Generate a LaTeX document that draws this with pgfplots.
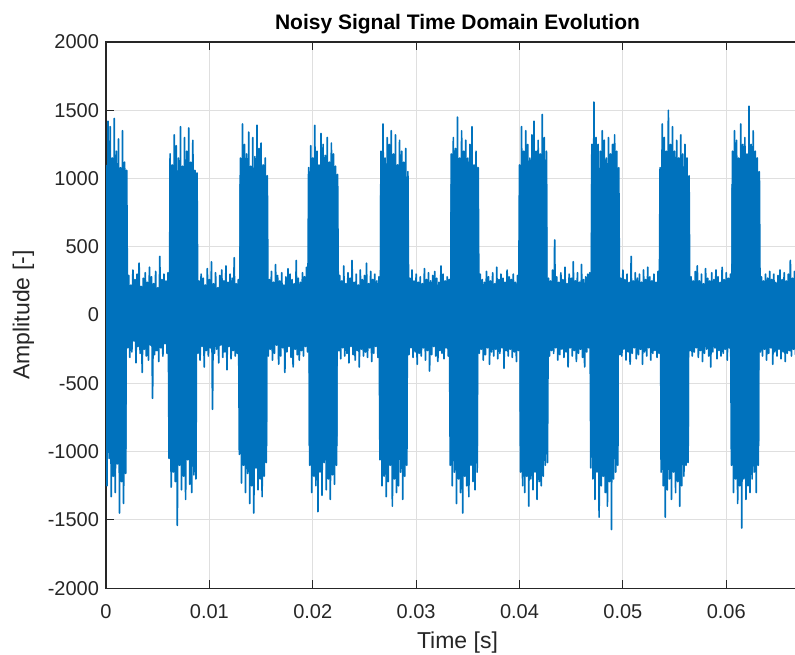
\documentclass[border=0pt]{standalone}
\usepackage{pgfplots}
\pgfplotsset{compat=1.18}
\usepackage{fontspec}
\setmainfont{Liberation Sans}
\definecolor{mblue}{RGB}{0,114,189}
\definecolor{axgray}{RGB}{38,38,38}
\definecolor{gridc}{RGB}{223,223,223}
\begin{document}
\begin{tikzpicture}
\begin{axis}[
  scale only axis, width=351.4pt, height=273pt,
  xmin=0, xmax=68, ymin=-2000, ymax=2000,
  xtick={0,10,20,30,40,50,60},
  xticklabels={0,0.01,0.02,0.03,0.04,0.05,0.06},
  ytick={-2000,-1500,-1000,-500,0,500,1000,1500,2000},
  grid=major, grid style={gridc, line width=0.5pt},
  axis line style={axgray, line width=0.6pt},
  tick style={axgray, line width=0.6pt}, tick align=inside, major tick length=4pt,
  ticklabel style={font=\fontsize{10}{12}\selectfont, text=axgray},
  xticklabel style={yshift=-4.5pt},
  /pgf/number format/assume math mode=true,
  /pgf/number format/1000 sep={},
  title={\bfseries Noisy Signal Time Domain Evolution},
  title style={font=\fontsize{10.5}{12}\selectfont, text=black, yshift=-5.5pt},
  xlabel={Time [s]}, ylabel={Amplitude [-]},
  label style={font=\fontsize{11.5}{13}\selectfont, text=axgray},
]
% solid core of the signal band
\addplot[fill=mblue, draw=none] coordinates {
(0,980) (2.0,980) (2.0,180) (6.1,180) (6.1,960) (8.8,960) (8.8,180)
(12.9,180) (12.9,960) (15.6,960) (15.6,180) (19.6,180) (19.6,960) (22.4,960) (22.4,180)
(26.5,180) (26.5,960) (29.2,960) (29.2,180) (33.3,180) (33.3,960) (36.0,960) (36.0,180)
(40.0,180) (40.0,960) (42.7,960) (42.7,180) (46.9,180) (46.9,960) (49.6,960) (49.6,180)
(53.6,180) (53.6,960) (56.4,960) (56.4,180) (60.5,180) (60.5,960) (63.2,960) (63.2,180)
(66.9,180)
(66.9,-180) (63.2,-180) (63.2,-960) (60.5,-960) (60.5,-180) (56.4,-180) (56.4,-960) (53.6,-960) (53.6,-180)
(49.6,-180) (49.6,-960) (46.9,-960) (46.9,-180) (42.7,-180) (42.7,-960) (40.0,-960) (40.0,-180)
(36.0,-180) (36.0,-960) (33.3,-960) (33.3,-180) (29.2,-180) (29.2,-960) (26.5,-960) (26.5,-180)
(22.4,-180) (22.4,-960) (19.6,-960) (19.6,-180) (15.6,-180) (15.6,-960) (12.9,-960) (12.9,-180)
(8.8,-180) (8.8,-960) (6.1,-960) (6.1,-180) (2.0,-180) (2.0,-980) (0,-980)
};
% sampled noisy signal
\addplot[mblue, line width=0.85pt, line join=round] table[header=false] {
0.0 1100
0.1 -1250
0.2 1420
0.3 -1050
0.4 1380
0.5 -1330
0.6 1150
0.7 -1180
0.8 1440
0.9 -1300
1.0 1200
1.1 -1090
1.2 1290
1.3 -1450
1.4 1080
1.5 -1220
1.6 1350
1.7 -1380
1.8 1120
1.9 -1160
2.0 1060
2.1 -240
2.2 290
2.3 -310
2.4 220
2.5 -270
2.6 330
2.7 -190
2.8 260
2.9 -350
3.0 300
3.1 -230
3.2 380
3.3 -280
3.4 210
3.5 -420
3.6 270
3.7 -250
3.8 310
3.9 -300
4.0 240
4.1 -330
4.2 350
4.3 -220
4.4 280
4.5 -610
4.6 230
4.7 -290
4.8 320
4.9 -260
5.0 200
5.1 -340
5.2 430
5.3 -240
5.4 260
5.5 -300
5.6 300
5.7 -210
5.8 250
5.9 -280
6.0 310
6.1 -1050
6.2 1180
6.3 -1260
6.4 1100
6.5 -1150
6.6 1320
6.7 -1220
6.8 1240
6.9 -1540
7.0 1150
7.1 -1100
7.2 1380
7.3 -1280
7.4 1090
7.5 -1180
7.6 1300
7.7 -1350
7.8 1200
7.9 -1060
8.0 1370
8.1 -1240
8.2 1120
8.3 -1300
8.4 1280
8.5 -1170
8.6 1060
8.7 -1200
8.8 1040
8.9 -280
9.0 250
9.1 -330
9.2 300
9.3 -230
9.4 270
9.5 -380
9.6 220
9.7 -260
9.8 340
9.9 -300
10.0 260
10.1 -240
10.2 390
10.3 -690
10.4 230
10.5 -280
10.6 310
10.7 -250
10.8 200
10.9 -350
11.0 290
11.1 -220
11.2 330
11.3 -310
11.4 250
11.5 -270
11.6 360
11.7 -400
11.8 240
11.9 -230
12.0 300
12.1 -320
12.2 270
12.3 -260
12.4 420
12.5 -300
12.6 230
12.7 -280
12.8 260
12.9 -1020
13.0 1150
13.1 -1230
13.2 1400
13.3 -1100
13.4 1250
13.5 -1300
13.6 1180
13.7 -1160
13.8 1340
13.9 -1380
14.0 1090
14.1 -1250
14.2 1300
14.3 -1450
14.4 1160
14.5 -1120
14.6 1390
14.7 -1280
14.8 1220
14.9 -1200
15.0 1260
15.1 -1330
15.2 1100
15.3 -1180
15.4 1150
15.5 -1080
15.6 1020
15.7 -300
15.8 260
15.9 -250
16.0 320
16.1 -330
16.2 240
16.3 -280
16.4 370
16.5 -220
16.6 290
16.7 -360
16.8 250
16.9 -300
17.0 310
17.1 -240
17.2 220
17.3 -420
17.4 280
17.5 -270
17.6 340
17.7 -230
17.8 300
17.9 -310
18.0 260
18.1 -380
18.2 230
18.3 -250
18.4 400
18.5 -290
18.6 270
18.7 -330
18.8 240
18.9 -260
19.0 310
19.1 -300
19.2 280
19.3 -230
19.4 350
19.5 -270
19.6 1080
19.7 -1100
19.8 1240
19.9 -1300
20.0 1150
20.1 -1180
20.2 1390
20.3 -1250
20.4 1200
20.5 -1440
20.6 1100
20.7 -1150
20.8 1330
20.9 -1320
21.0 1250
21.1 -1080
21.2 1170
21.3 -1280
21.4 1300
21.5 -1200
21.6 1120
21.7 -1350
21.8 1260
21.9 -1170
22.0 1180
22.1 -1240
22.2 1090
22.3 -1100
22.4 1030
22.5 -260
22.6 290
22.7 -320
22.8 250
22.9 -240
23.0 360
23.1 -300
23.2 230
23.3 -280
23.4 310
23.5 -350
23.6 270
23.7 -230
23.8 400
23.9 -290
24.0 240
24.1 -330
24.2 300
24.3 -260
24.4 220
24.5 -380
24.6 330
24.7 -250
24.8 260
24.9 -300
25.0 290
25.1 -270
25.2 380
25.3 -310
25.4 230
25.5 -240
25.6 320
25.7 -340
25.8 260
25.9 -280
26.0 300
26.1 -230
26.2 250
26.3 -310
26.4 280
26.5 -1060
26.6 1200
26.7 -1250
26.8 1400
26.9 -1180
27.0 1150
27.1 -1330
27.2 1300
27.3 -1220
27.4 1250
27.5 -1100
27.6 1350
27.7 -1400
27.8 1180
27.9 -1200
28.0 1320
28.1 -1300
28.2 1100
28.3 -1250
28.4 1280
28.5 -1150
28.6 1200
28.7 -1350
28.8 1120
28.9 -1180
29.0 1220
29.1 -1100
29.2 1050
29.3 -290
29.4 270
29.5 -240
29.6 330
29.7 -310
29.8 250
29.9 -270
30.0 300
30.1 -360
30.2 240
30.3 -280
30.4 280
30.5 -300
30.6 230
30.7 -240
30.8 340
30.9 -330
31.0 260
31.1 -260
31.2 310
31.3 -410
31.4 250
31.5 -290
31.6 290
31.7 -230
31.8 320
31.9 -300
32.0 270
32.1 -340
32.2 240
32.3 -260
32.4 360
32.5 -280
32.6 300
32.7 -320
32.8 250
32.9 -240
33.0 280
33.1 -300
33.2 260
33.3 -1100
33.4 1180
33.5 -1250
33.6 1300
33.7 -1150
33.8 1220
33.9 -1380
34.0 1450
34.1 -1200
34.2 1150
34.3 -1300
34.4 1350
34.5 -1450
34.6 1200
34.7 -1180
34.8 1280
34.9 -1250
35.0 1150
35.1 -1330
35.2 1250
35.3 -1100
35.4 1380
35.5 -1220
35.6 1100
35.7 -1280
35.8 1200
35.9 -1150
36.0 1080
36.1 -280
36.2 300
36.3 -250
36.4 260
36.5 -330
36.6 240
36.7 -290
36.8 320
36.9 -240
37.0 280
37.1 -360
37.2 250
37.3 -270
37.4 310
37.5 -300
37.6 230
37.7 -250
37.8 350
37.9 -320
38.0 260
38.1 -280
38.2 300
38.3 -240
38.4 270
38.5 -390
38.6 240
38.7 -260
38.8 330
38.9 -300
39.0 280
39.1 -250
39.2 260
39.3 -310
39.4 300
39.5 -270
39.6 240
39.7 -340
39.8 290
39.9 -260
40.0 1100
40.1 -1150
40.2 1380
40.3 -1250
40.4 1200
40.5 -1300
40.6 1350
40.7 -1180
40.8 1250
40.9 -1400
41.0 1150
41.1 -1200
41.2 1320
41.3 -1280
41.4 1420
41.5 -1150
41.6 1200
41.7 -1350
41.8 1280
41.9 -1220
42.0 1180
42.1 -1250
42.2 1470
42.3 -1180
42.4 1300
42.5 -1100
42.6 1200
42.7 -1080
42.8 270
42.9 -300
43.0 250
43.1 -260
43.2 330
43.3 -280
43.4 550
43.5 -240
43.6 280
43.7 -330
43.8 240
43.9 -290
44.0 310
44.1 -250
44.2 260
44.3 -310
44.4 350
44.5 -270
44.6 230
44.7 -380
44.8 300
44.9 -240
45.0 270
45.1 -300
45.2 390
45.3 -260
45.4 250
45.5 -340
45.6 310
45.7 -280
45.8 240
45.9 -250
46.0 370
46.1 -310
46.2 260
46.3 -380
46.4 280
46.5 -270
46.6 300
46.7 -240
46.8 310
46.9 -1120
47.0 1250
47.1 -1200
47.2 1560
47.3 -1350
47.4 1300
47.5 -1150
47.6 1250
47.7 -1480
47.8 1200
47.9 -1250
48.0 1350
48.1 -1180
48.2 1280
48.3 -1300
48.4 1150
48.5 -1400
48.6 1300
48.7 -1220
48.8 1180
48.9 -1570
49.0 1250
49.1 -1200
49.2 1320
49.3 -1150
49.4 1200
49.5 -1100
49.6 1080
49.7 -290
49.8 270
49.9 -300
50.0 330
50.1 -250
50.2 260
50.3 -330
50.4 300
50.5 -270
50.6 240
50.7 -360
50.8 430
50.9 -280
51.0 250
51.1 -240
51.2 310
51.3 -320
51.4 270
51.5 -290
51.6 300
51.7 -250
51.8 240
51.9 -360
52.0 330
52.1 -270
52.2 260
52.3 -300
52.4 350
52.5 -240
52.6 280
52.7 -330
52.8 250
52.9 -280
53.0 300
53.1 -260
53.2 240
53.3 -310
53.4 320
53.5 -280
53.6 1080
53.7 -1150
53.8 1400
53.9 -1250
54.0 1300
54.1 -1480
54.2 1200
54.3 -1280
54.4 1500
54.5 -1200
54.6 1250
54.7 -1350
54.8 1380
54.9 -1150
55.0 1200
55.1 -1300
55.2 1280
55.3 -1220
55.4 1150
55.5 -1400
55.6 1320
55.7 -1250
55.8 1180
55.9 -1180
56.0 1250
56.1 -1100
56.2 1150
56.3 -1080
56.4 1020
56.5 -260
56.6 280
56.7 -300
56.8 250
56.9 -270
57.0 320
57.1 -240
57.2 360
57.3 -310
57.4 250
57.5 -260
57.6 300
57.7 -340
57.8 230
57.9 -280
58.0 340
58.1 -250
58.2 270
58.3 -300
58.4 250
58.5 -380
58.6 310
58.7 -270
58.8 260
58.9 -240
59.0 330
59.1 -320
59.2 280
59.3 -260
59.4 240
59.5 -300
59.6 350
59.7 -280
59.8 260
59.9 -250
60.0 310
60.1 -330
60.2 270
60.3 -240
60.4 300
60.5 -1100
60.6 1200
60.7 -1300
60.8 1350
60.9 -1200
61.0 1280
61.1 -1380
61.2 1150
61.3 -1250
61.4 1400
61.5 -1560
61.6 1250
61.7 -1200
61.8 1300
61.9 -1350
62.0 1180
62.1 -1250
62.2 1530
62.3 -1300
62.4 1250
62.5 -1200
62.6 1350
62.7 -1150
62.8 1200
62.9 -1300
63.0 1150
63.1 -1100
63.2 1050
63.3 -270
63.4 280
63.5 -300
63.6 250
63.7 -250
63.8 300
63.9 -330
64.0 270
64.1 -280
64.2 320
64.3 -240
64.4 260
64.5 -360
64.6 300
64.7 -270
64.8 240
64.9 -300
65.0 290
65.1 -250
65.2 330
65.3 -320
65.4 260
65.5 -270
65.6 310
65.7 -340
65.8 250
65.9 -280
66.0 300
66.1 -260
66.2 400
66.3 -300
66.4 270
66.5 -250
66.6 320
66.7 -290
66.8 280
66.9 -260
};
\coordinate (ll) at (rel axis cs:0,0);
\coordinate (cut) at (axis cs:66.65,2000);
\end{axis}
\pgfresetboundingbox
\path[use as bounding box] ([xshift=-53pt,yshift=-33pt]ll) rectangle ([yshift=21pt]cut);
\end{tikzpicture}
\end{document}
